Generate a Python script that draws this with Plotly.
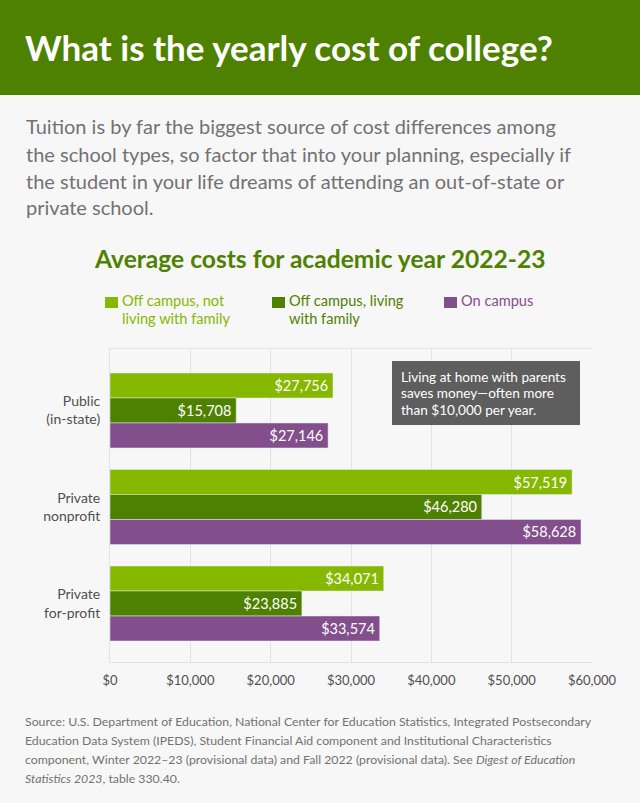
import plotly.graph_objects as go

W = 640
H = 803

categories = ["Public<br>(in-state)", "Private<br>nonprofit", "Private<br>for-profit"]
off_not_family = [27756, 57519, 34071]
off_with_family = [15708, 46280, 23885]
on_campus = [27146, 58628, 33574]
tick_values = [0, 10000, 20000, 30000, 40000, 50000, 60000]
tick_labels = ["$0", "$10,000", "$20,000", "$30,000", "$40,000", "$50,000", "$60,000"]

LIGHT = "#86b800"
DARK = "#4f8100"
PURPLE = "#834e8c"
BG = "#f7f7f7"
GRID = "#e3e3e3"
GREY = "#727272"
FONT = "Lato"


def label(px, py, text, size, color, bold=False):
    # px, py are page pixels, measured from the top left
    if bold:
        text = "<b>" + text + "</b>"
    return dict(x=px / W, y=1 - py / H, xref="paper", yref="paper", text=text, showarrow=False,
                xanchor="left", yanchor="middle", align="left",
                font=dict(family=FONT, size=size, color=color))


def box(x0, y0, x1, y1, color):
    return dict(type="rect", xref="paper", yref="paper", x0=x0 / W, x1=x1 / W,
                y0=1 - y1 / H, y1=1 - y0 / H, fillcolor=color, line_width=0, layer="above")


fig = go.Figure()
for name, values, color in [("Off campus, not living with family", off_not_family, LIGHT),
                            ("Off campus, living with family", off_with_family, DARK),
                            ("On campus", on_campus, PURPLE)]:
    fig.add_trace(go.Bar(y=categories, x=values, name=name, orientation="h", marker_color=color,
                         texttemplate="$%{x:,}\u2009", textposition="inside", insidetextanchor="end",
                         textangle=0, constraintext="none",
                         textfont=dict(family=FONT, size=14.5, color="white")))

annotations = [
    label(23, 47, "What is the yearly cost of college?", 35, "white", True),
    label(24, 126.5, "Tuition is by far the biggest source of cost differences among", 20, GREY),
    label(24, 153.5, "the school types, so factor that into your planning, especially if", 20, GREY),
    label(24, 180.5, "the student in your life dreams of attending an out-of-state or", 20, GREY),
    label(24, 207.5, "private school.", 20, GREY),
    label(92, 259, "Average costs for academic year 2022-23", 24.6, DARK, True),
    label(120, 301, "Off campus, not", 14.6, LIGHT),
    label(120, 318, "living with family", 14.6, LIGHT),
    label(287, 301, "Off campus, living", 14.6, DARK),
    label(287, 318, "with family", 14.6, DARK),
    label(459, 301, "On campus", 14.6, PURPLE),
    label(399, 377, "Living at home with parents", 13.6, "white"),
    label(399, 393.5, "saves money—often more", 13.6, "white"),
    label(399, 409.5, "than $10,000 per year.", 13.6, "white"),
    label(23, 721.5, "Source: U.S. Department of Education, National Center for Education Statistics, Integrated Postsecondary", 12.3, GREY),
    label(23, 740.5, "Education Data System (IPEDS), Student Financial Aid component and Institutional Characteristics", 12.3, GREY),
    label(23, 759.5, "component, Winter 2022–23 (provisional data) and Fall 2022 (provisional data). See <i>Digest of Education</i>", 12.3, GREY),
    label(23, 778.5, "<i>Statistics 2023</i>, table 330.40.", 12.3, GREY),
]

shapes = [
    box(0, 0, 640, 95, DARK),
    box(105, 297, 118, 308, LIGHT),
    box(272, 297, 285, 308, DARK),
    box(444, 297, 457, 308, PURPLE),
    box(392, 361, 580, 425, "#5e5e5e"),
]

fig.update_layout(
    width=W, height=H, autosize=False,
    margin=dict(l=0, r=0, t=0, b=0, pad=0, autoexpand=False),
    paper_bgcolor=BG, plot_bgcolor=BG,
    barmode="group", bargap=0.223, bargroupgap=0,
    showlegend=False,
    font=dict(family=FONT),
    annotations=annotations, shapes=shapes,
)
fig.update_xaxes(domain=[110 / W, 592 / W], range=[0, 60000], tickvals=tick_values, ticktext=tick_labels,
                 showgrid=True, gridcolor=GRID, gridwidth=1, zeroline=False,
                 showline=True, mirror=True, linecolor=GRID, linewidth=1,
                 ticks="outside", ticklen=6, tickcolor=BG,
                 tickfont=dict(family=FONT, size=13, color="#505050"))
fig.update_yaxes(domain=[141 / H, 454 / H], range=[2.606, -0.637], autorange=False,
                 showgrid=False, zeroline=False, showline=True, linecolor=GRID, linewidth=1,
                 ticks="outside", ticklen=6, tickcolor=BG,
                 tickfont=dict(family=FONT, size=14, color="#505050"))

fig.write_html("out.html", config={"displayModeBar": False},
               post_script="document.body.style.margin='0';")
